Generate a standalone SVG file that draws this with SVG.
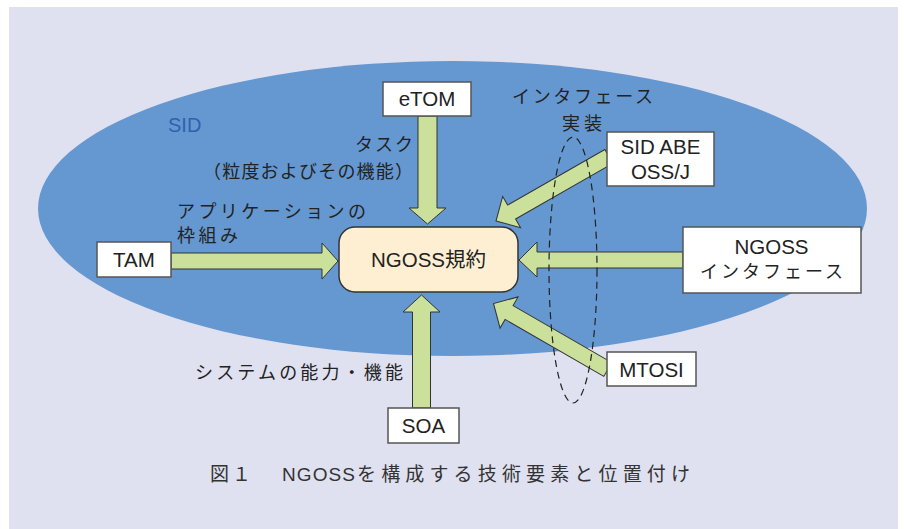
<svg xmlns="http://www.w3.org/2000/svg" width="904" height="529" viewBox="0 0 904 529">
<style>
.box{fill:#ffffff;stroke:#555555;stroke-width:1.5}
.core{fill:#FEEFD3;stroke:#333333;stroke-width:1.5}
.arr{fill:#CBE09B;stroke:#333333;stroke-width:1;stroke-linejoin:miter}
.lat{font-family:"Liberation Sans","Noto Sans CJK JP",sans-serif;font-size:20.5px;fill:#222222}
.jp{font-family:"Noto Sans CJK JP","Liberation Sans",sans-serif;font-size:18px;fill:#222222}
.cap{font-family:"Noto Sans CJK JP","Liberation Sans",sans-serif;font-size:19px;fill:#333333}
.capl{font-family:"Liberation Sans","Noto Sans CJK JP",sans-serif;font-size:19px;fill:#333333}
</style>
<rect x="0" y="0" width="904" height="529" fill="#ffffff"/>
<rect x="9" y="7" width="889" height="530" fill="#DFE1F0"/>
<ellipse cx="452.5" cy="208.5" rx="414.5" ry="147.5" fill="#6598D0"/>
<text x="168" y="132" font-family="'Liberation Sans',sans-serif" font-size="20" fill="#2F62AE">SID</text>

<g id="connectors">
<polygon class="arr" points="418,116 437,116 437,208 446,208 427.5,224 409,208 418,208"/>
<polygon class="arr" points="171,253 322,253 322,243 338,261 322,279 322,269 171,269"/>
<polygon class="arr" points="683,252 537,252 537,242 519,260 537,277 537,268 683,268"/>
<polygon class="arr" points="412.5,408 412.5,312 403,312 421.5,295 440,312 430.5,312 430.5,408"/>
<polygon class="arr" transform="translate(496,221) rotate(150.2)" points="0,0 -18,-18 -18,-8 -130,-8 -130,8 -18,8 -18,18"/>
<polygon class="arr" transform="translate(493.5,303.5) rotate(-150)" points="0,0 -18,-18 -18,-8 -132,-8 -132,8 -18,8 -18,18"/>
<ellipse cx="573" cy="270" rx="24" ry="133" fill="none" stroke="#222222" stroke-width="1.2" stroke-dasharray="7 5"/>
</g>

<g id="labels">
<text class="jp" x="413" y="151" text-anchor="end" textLength="58" lengthAdjust="spacing">タスク</text>
<text class="jp" x="203" y="178" textLength="210" lengthAdjust="spacing">（粒度およびその機能）</text>
<text class="jp" x="177" y="218" textLength="189" lengthAdjust="spacing">アプリケーションの</text>
<text class="jp" x="177" y="242" textLength="61" lengthAdjust="spacing">枠組み</text>
<text class="jp" x="512" y="103" textLength="141" lengthAdjust="spacing">インタフェース</text>
<text class="jp" x="562" y="130" textLength="40" lengthAdjust="spacing">実装</text>
<text class="jp" x="195" y="379" textLength="208" lengthAdjust="spacing">システムの能力・機能</text>
<text y="481"><tspan class="cap" x="210">図</tspan><tspan class="cap" x="232">１　</tspan><tspan class="capl" x="282" textLength="73" lengthAdjust="spacing">NGOSS</tspan><tspan class="cap" x="357" textLength="333" lengthAdjust="spacing">を構成する技術要素と位置付け</tspan></text>
</g>

<g id="node-etom">
<rect class="box" x="383" y="82" width="88" height="34"/>
<text class="lat" x="427" y="106" text-anchor="middle">eTOM</text>
</g>
<g id="node-tam">
<rect class="box" x="97" y="242" width="74" height="35"/>
<text class="lat" x="134" y="267" text-anchor="middle">TAM</text>
</g>
<g id="node-ngoss">
<rect class="core" x="339" y="227" width="179" height="65" rx="16" ry="16"/>
<text class="lat" x="428.5" y="267" text-anchor="middle" font-size="21">NGOSS規約</text>
</g>
<g id="node-sidabe">
<rect class="box" x="607" y="132" width="107" height="54"/>
<text class="lat" x="660.5" y="154" text-anchor="middle">SID ABE</text>
<text class="lat" x="660.5" y="179" text-anchor="middle">OSS/J</text>
</g>
<g id="node-ngossif">
<rect class="box" x="683" y="227" width="178" height="66"/>
<text class="lat" x="771.5" y="254" text-anchor="middle">NGOSS</text>
<text class="jp" x="700" y="278" textLength="143" lengthAdjust="spacing">インタフェース</text>
</g>
<g id="node-soa">
<rect class="box" x="388" y="408" width="71" height="35"/>
<text class="lat" x="423.5" y="433" text-anchor="middle">SOA</text>
</g>
<g id="node-mtosi">
<rect class="box" x="607" y="352" width="89" height="34"/>
<text class="lat" x="651.5" y="377" text-anchor="middle">MTOSI</text>
</g>
</svg>
